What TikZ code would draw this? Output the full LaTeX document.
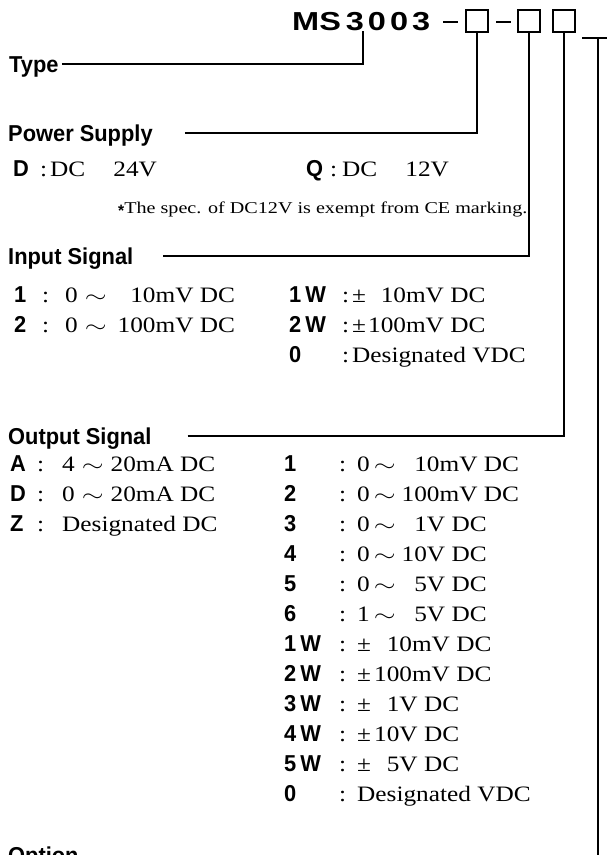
\documentclass[tikz,border=0pt]{standalone}
\usepackage{graphicx}
\usepackage{fontspec}
\setmainfont{Liberation Serif}
\newfontfamily\headfont[FakeStretch=0.95]{Liberation Sans}
\newfontfamily\titlefont[FakeStretch=1.25]{Liberation Sans}
\newfontfamily\valfont[FakeStretch=1.15]{Liberation Serif}
\newfontfamily\notefont[FakeStretch=1.22]{Liberation Serif}
\usetikzlibrary{positioning}
\newcommand{\cd}[2]{\makebox[#1][l]{\headfont\bfseries\fontsize{23}{23}\selectfont #2}}
\newcommand{\wave}{\scalebox{1.35}[1]{$\sim$}}

\begin{document}
\begin{tikzpicture}[x=1pt,y=-1pt,
    headtxt/.style={anchor=base west, inner sep=0pt, text height=16pt, text depth=0pt,
      font=\headfont\bfseries\fontsize{23}{23}\selectfont},
    titletxt/.style={anchor=base west, inner sep=0pt, font=\titlefont\bfseries\fontsize{26}{26}\selectfont},
    entry/.style={anchor=base west, inner sep=0pt, font=\valfont\fontsize{22}{22}\selectfont},
    notetxt/.style={anchor=base west, inner sep=0pt, font=\notefont\fontsize{16.5}{16.5}\selectfont},
    dashbar/.style={anchor=west, inner sep=0pt},
    conn/.style={line width=1.5pt},
    codebox/.style={draw, line width=2.4pt, minimum size=22pt, inner sep=0pt}]
  \useasboundingbox (0,0) rectangle (607,855);
  % Model code
  \node[titletxt] (ms) at (292,30) {MS\hspace{5pt}3\hspace{4pt}0\hspace{4pt}0\hspace{4pt}3};
  \node[dashbar] (dash1) at (443,22) {\rule{15pt}{2.8pt}};
  \node[codebox] (b1) at (477,21) {};
  \node[dashbar] (dash2) at (496,22) {\rule{15pt}{2.8pt}};
  \node[codebox] (b2) at (529,21) {};
  \node[codebox] (b3) at (564,21) {};
  \coordinate (typeend) at (363,31);
  \coordinate (optslot) at (582,38);
  % Headings
  \node[headtxt] (type) at (9,72) {Type};
  \node[headtxt] (power) at (8,141) {Power Supply};
  \node[headtxt] (insig) at (8,264) {Input Signal};
  \node[headtxt] (outsig) at (8,444) {Output Signal};
  \node[headtxt] (option) at (8,863) {Option};
  % Connectors
  \draw[conn] ([xshift=3pt]type.east) -| (typeend);
  \draw[conn] ([xshift=32pt]power.east) -| (b1.south);
  \draw[conn] ([xshift=30pt]insig.east) -| (b2.south);
  \draw[conn] ([xshift=36pt]outsig.east) -| (b3.south);
  \draw[conn] (optslot) -- ++(25,0);
  \draw[conn] ([xshift=16pt]optslot) |- ([xshift=26pt,yshift=-6pt]option.east);
  % Power supply
  \node[entry] (psD) at (13,176) {\cd{27pt}{D}:\hspace{3pt}DC\hspace{28pt}24V};
  \node[entry] (psQ) at (306,176) {\cd{24pt}{Q}:\hspace{5pt}DC\hspace{28pt}12V};
  \node[notetxt] (note) at (118,213) {\raisebox{-3.5pt}{\headfont\bfseries *}The spec. of DC12V is exempt from CE marking.};
  % Input signal
  \node[entry] (in1) at (14,302) {\cd{28pt}{1}:\hspace{16pt}0\hspace{7pt}\wave\hspace{11pt}\phantom{0}10mV DC};
  \node[entry] (in2) at (14,332) {\cd{28pt}{2}:\hspace{16pt}0\hspace{7pt}\wave\hspace{11pt}100mV DC};
  \node[entry] (in1w) at (289,302) {\cd{53pt}{1\hspace{4pt}W}:\hspace{3pt}\textpm\hspace{2pt}\phantom{0}10mV DC};
  \node[entry] (in2w) at (289,332) {\cd{53pt}{2\hspace{4pt}W}:\hspace{3pt}\textpm\hspace{2pt}100mV DC};
  \node[entry] (in0) at (289,362) {\cd{53pt}{0}:\hspace{3pt}Designated VDC};
  % Output signal
  \node[entry] (outA) at (10,471) {\cd{27pt}{A}:\hspace{18pt}4\hspace{7pt}\wave\hspace{7pt}20mA DC};
  \node[entry] (outD) at (10,501) {\cd{27pt}{D}:\hspace{18pt}0\hspace{7pt}\wave\hspace{7pt}20mA DC};
  \node[entry] (outZ) at (10,531) {\cd{27pt}{Z}:\hspace{18pt}Designated DC};
  \node[entry] (out1) at (284,471) {\cd{55pt}{1}:\hspace{11pt}0\hspace{4pt}\wave\hspace{6pt}\phantom{0}10mV DC};
  \node[entry] (out2) at (284,501) {\cd{55pt}{2}:\hspace{11pt}0\hspace{4pt}\wave\hspace{6pt}100mV DC};
  \node[entry] (out3) at (284,531) {\cd{55pt}{3}:\hspace{11pt}0\hspace{4pt}\wave\hspace{6pt}\phantom{0}1V DC};
  \node[entry] (out4) at (284,561) {\cd{55pt}{4}:\hspace{11pt}0\hspace{4pt}\wave\hspace{6pt}10V DC};
  \node[entry] (out5) at (284,591) {\cd{55pt}{5}:\hspace{11pt}0\hspace{4pt}\wave\hspace{6pt}\phantom{0}5V DC};
  \node[entry] (out6) at (284,621) {\cd{55pt}{6}:\hspace{11pt}1\hspace{4pt}\wave\hspace{6pt}\phantom{0}5V DC};
  \node[entry] (out1w) at (284,651) {\cd{55pt}{1\hspace{4pt}W}:\hspace{11pt}\textpm\hspace{3pt}\phantom{0}10mV DC};
  \node[entry] (out2w) at (284,681) {\cd{55pt}{2\hspace{4pt}W}:\hspace{11pt}\textpm\hspace{3pt}100mV DC};
  \node[entry] (out3w) at (284,711) {\cd{55pt}{3\hspace{4pt}W}:\hspace{11pt}\textpm\hspace{3pt}\phantom{0}1V DC};
  \node[entry] (out4w) at (284,741) {\cd{55pt}{4\hspace{4pt}W}:\hspace{11pt}\textpm\hspace{3pt}10V DC};
  \node[entry] (out5w) at (284,771) {\cd{55pt}{5\hspace{4pt}W}:\hspace{11pt}\textpm\hspace{3pt}\phantom{0}5V DC};
  \node[entry] (out0) at (284,801) {\cd{55pt}{0}:\hspace{11pt}Designated VDC};
\end{tikzpicture}
\end{document}
